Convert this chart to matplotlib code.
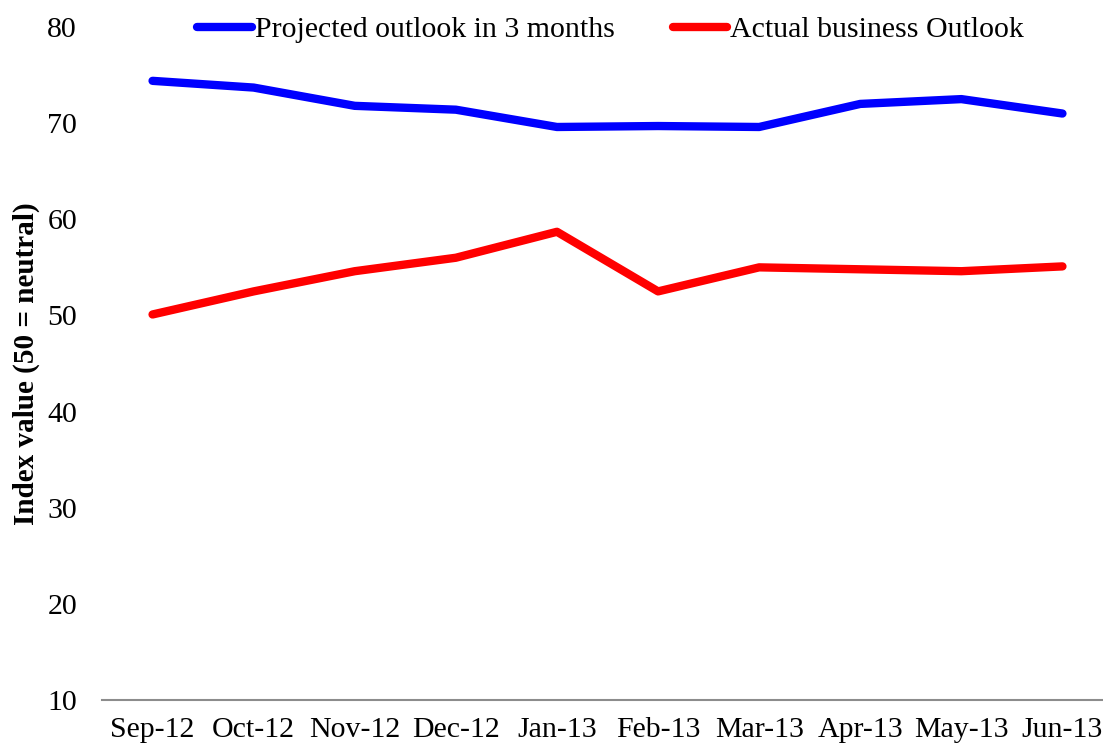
import matplotlib
matplotlib.use("Agg")
import matplotlib.pyplot as plt

months = ["Sep-12", "Oct-12", "Nov-12", "Dec-12", "Jan-13",
          "Feb-13", "Mar-13", "Apr-13", "May-13", "Jun-13"]
projected = [74.4, 73.7, 71.8, 71.4, 69.6, 69.7, 69.6, 72.0, 72.5, 71.0]
actual = [50.1, 52.5, 54.6, 56.0, 58.7, 52.5, 55.0, 54.8, 54.6, 55.1]

plt.rcParams['font.family'] = ['Liberation Serif', 'DejaVu Serif']

fig = plt.figure(figsize=(11.03, 7.48), dpi=100)
W, H = 1103, 748
left, right = 102, 1113
top, bottom = 27, 700
ax = fig.add_axes([left / W, (H - bottom) / H, (right - left) / W, (bottom - top) / H])

x = range(len(months))
ax.plot(x, projected, color="#0000ff", lw=6, solid_capstyle="round",
        label="Projected outlook in 3 months")
ax.plot(x, actual, color="#ff0000", lw=6, solid_capstyle="round",
        label="Actual business Outlook")

ax.set_xlim(-0.5, len(months) - 0.5)
ax.set_ylim(10, 80)
ax.set_yticks(range(10, 81, 10))
ax.set_xticks(list(x))
ax.set_xticklabels(months)
ax.tick_params(axis="both", length=0, labelsize=21.5, colors="black")
ax.tick_params(axis="y", pad=18)
ax.tick_params(axis="x", pad=12)

for s in ["top", "right", "left"]:
    ax.spines[s].set_visible(False)
ax.spines["bottom"].set_color("#8c8c8c")
ax.spines["bottom"].set_linewidth(1.5)

ax.set_ylabel("Index value (50 = neutral)", fontsize=21, fontweight="bold", labelpad=5)

leg = ax.legend(loc="center",
                bbox_to_anchor=(0.5 + 3 / (right - left), 1.0 - 3 / (bottom - top)),
                ncol=2, frameon=False, fontsize=21.5, handlelength=1.84,
                handletextpad=0.1, columnspacing=1.94, borderaxespad=0)

fig.savefig("out.png", dpi=100)
